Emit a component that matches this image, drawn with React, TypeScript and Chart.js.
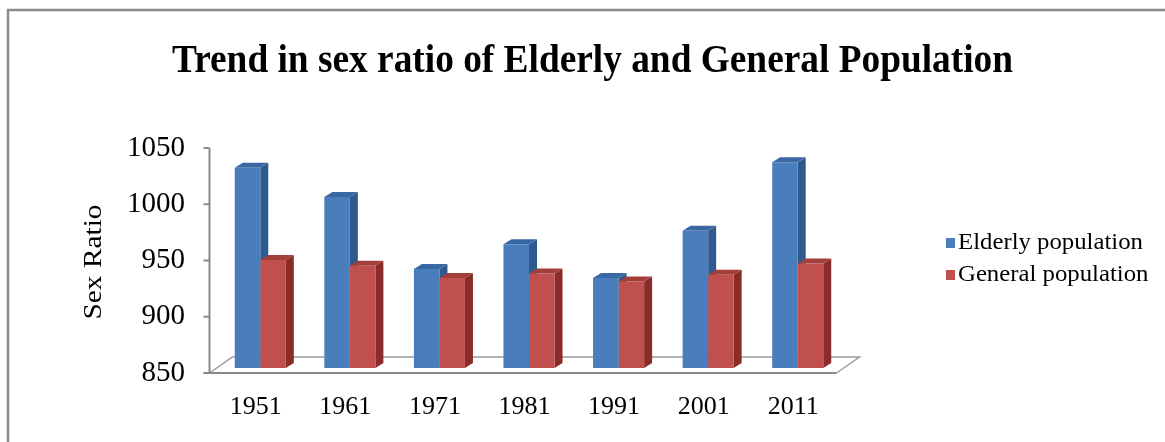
import React, { useEffect, useRef } from "react";
import { Chart, registerables } from "chart.js";

Chart.register(...registerables);

const years = ["1951", "1961", "1971", "1981", "1991", "2001", "2011"];
const elderlyPopulation = [1028, 1002, 938, 960, 930, 972, 1033];
const generalPopulation = [946, 941, 930, 934, 927, 933, 943];
const yTicks = [850, 900, 950, 1000, 1050];

const SERIF = '"Liberation Serif", "Times New Roman", serif';

// colours for the front, side and top faces of each series
const BLUE = { front: "#4A7DBB", side: "#2E5A8E", top: "#3A68A3" };
const RED = { front: "#C0504D", side: "#8A2C29", top: "#A43E3B" };

// depth of the bars and of the floor (pixels, pointing back and up)
const BAR_DX = 8;
const BAR_DY = -5;
const FLOOR_DX = 23;
const FLOOR_DY = -16;
// front plane (axis and floor edge) relative to the plane of the bars
const FRONT_DX = -6;
const FRONT_DY = 5;

const depthPlugin = {
  id: "depth3d",
  beforeDatasetsDraw(chart: any) {
    const { ctx, chartArea, scales } = chart;
    const y = scales.y;
    const fl = chartArea.left + FRONT_DX;
    const fr = chartArea.right + FRONT_DX;
    const fb = chartArea.bottom + FRONT_DY;

    ctx.save();
    // floor outline
    ctx.strokeStyle = "#9a9a9a";
    ctx.lineWidth = 1.5;
    ctx.beginPath();
    ctx.moveTo(fl, fb);
    ctx.lineTo(fl + FLOOR_DX, fb + FLOOR_DY);
    ctx.lineTo(fr + FLOOR_DX, fb + FLOOR_DY);
    ctx.lineTo(fr, fb);
    ctx.stroke();
    ctx.strokeStyle = "#8a8a8a";
    ctx.lineWidth = 2;
    ctx.beginPath();
    ctx.moveTo(fl - 6, fb);
    ctx.lineTo(fr, fb);
    ctx.stroke();

    // vertical value axis with tick marks
    ctx.beginPath();
    ctx.moveTo(fl, y.getPixelForValue(1050) + FRONT_DY);
    ctx.lineTo(fl, fb);
    yTicks.forEach((v) => {
      const py = y.getPixelForValue(v) + FRONT_DY;
      ctx.moveTo(fl - 6, py);
      ctx.lineTo(fl, py);
    });
    ctx.stroke();

    // side and top faces of every bar
    const faces = [BLUE, RED];
    chart.data.datasets.forEach((_: any, di: number) => {
      const meta = chart.getDatasetMeta(di);
      meta.data.forEach((bar: any) => {
        const { x, y: top, base, width } = bar.getProps(["x", "y", "base", "width"], true);
        const bottom = Math.min(base, chartArea.bottom);
        const l = x - width / 2;
        const r = x + width / 2;
        ctx.fillStyle = faces[di].side;
        ctx.beginPath();
        ctx.moveTo(r, top);
        ctx.lineTo(r + BAR_DX, top + BAR_DY);
        ctx.lineTo(r + BAR_DX, bottom + BAR_DY);
        ctx.lineTo(r, bottom);
        ctx.closePath();
        ctx.fill();
        ctx.fillStyle = faces[di].top;
        ctx.beginPath();
        ctx.moveTo(l, top);
        ctx.lineTo(l + BAR_DX, top + BAR_DY);
        ctx.lineTo(r + BAR_DX, top + BAR_DY);
        ctx.lineTo(r, top);
        ctx.closePath();
        ctx.fill();
      });
    });
    ctx.restore();
  },
  afterDraw(chart: any) {
    const { ctx, scales } = chart;
    ctx.save();

    // frame
    ctx.strokeStyle = "#8c8c8c";
    ctx.lineWidth = 2.5;
    ctx.beginPath();
    ctx.moveTo(8, 442);
    ctx.lineTo(8, 10);
    ctx.lineTo(1165, 10);
    ctx.stroke();

    // title, set condensed
    const title = "Trend in sex ratio of Elderly and General Population";
    ctx.font = `bold 41px ${SERIF}`;
    ctx.fillStyle = "#000";
    ctx.textBaseline = "alphabetic";
    ctx.textAlign = "center";
    const w = ctx.measureText(title).width;
    ctx.save();
    ctx.translate(592.5, 72);
    ctx.scale(841 / w, 1);
    ctx.fillText(title, 0, 0);
    ctx.restore();

    // value axis title
    ctx.save();
    ctx.font = `25px ${SERIF}`;
    ctx.textBaseline = "middle";
    ctx.textAlign = "center";
    const axisTitle = "Sex Ratio";
    const aw = ctx.measureText(axisTitle).width;
    ctx.translate(94, 262);
    ctx.rotate(-Math.PI / 2);
    ctx.scale(115 / aw, 1);
    ctx.fillText(axisTitle, 0, 0);
    ctx.restore();

    // legend
    const entries = [
      { label: "Elderly population", color: BLUE.front },
      { label: "General population", color: RED.front },
    ];
    ctx.font = `23px ${SERIF}`;
    ctx.textAlign = "left";
    ctx.textBaseline = "middle";
    const lw = ctx.measureText(entries[0].label).width;
    const lsx = 185 / lw;
    entries.forEach((e, i) => {
      const cyL = 243 + i * 32;
      ctx.fillStyle = e.color;
      ctx.fillRect(946, cyL - 5, 9, 10);
      ctx.fillStyle = "#000";
      ctx.save();
      ctx.translate(958, cyL);
      ctx.scale(lsx, 1);
      ctx.fillText(e.label, 0, 0);
      ctx.restore();
    });
    ctx.restore();
  },
};

export default function App() {
  const canvasRef = useRef<HTMLCanvasElement | null>(null);

  useEffect(() => {
    const canvas = canvasRef.current;
    if (!canvas) return;
    const chart = new Chart(canvas, {
      type: "bar",
      data: {
        labels: years,
        datasets: [
          {
            label: "Elderly population",
            data: elderlyPopulation,
            backgroundColor: BLUE.front,
            categoryPercentage: 0.57,
            barPercentage: 1.0,
          },
          {
            label: "General population",
            data: generalPopulation,
            backgroundColor: RED.front,
            categoryPercentage: 0.57,
            barPercentage: 1.0,
          },
        ],
      },
      options: {
        responsive: false,
        animation: false,
        devicePixelRatio: 1,
        layout: { padding: { left: 0, right: 322.5, top: 143, bottom: 0 } },
        plugins: {
          legend: { display: false },
          title: { display: false },
          tooltip: { enabled: false },
        },
        scales: {
          x: {
            grid: { display: false, drawTicks: false },
            border: { display: false },
            ticks: {
              color: "#000",
              font: { family: SERIF, size: 26 },
              padding: 24,
              labelOffset: -4.5,
            },
            afterFit: (scale: any) => {
              scale.height = 74;
            },
          },
          y: {
            min: 850,
            max: 1050,
            grid: { display: false, drawTicks: false },
            border: { display: false },
            ticks: {
              stepSize: 50,
              color: "#000",
              font: { family: SERIF, size: 29 },
              padding: 30.5,
              labelOffset: 5,
              callback: (v: any) => String(v),
            },
            afterFit: (scale: any) => {
              scale.width = 215.5;
            },
          },
        },
      },
      plugins: [depthPlugin],
    });
    return () => chart.destroy();
  }, []);

  return (
    <div style={{ position: "fixed", left: 0, top: 0, width: 1165, height: 442, background: "#fff" }}>
      <canvas ref={canvasRef} width={1165} height={442} style={{ width: 1165, height: 442, display: "block" }} />
    </div>
  );
}
